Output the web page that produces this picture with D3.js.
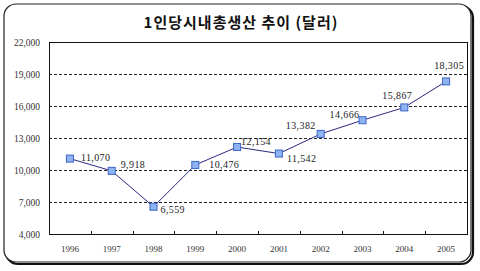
<!DOCTYPE html>
<html>
<head>
	<meta charset="utf-8">
	<title>1인당시내총생산 추이</title>
	<style type="text/css">
		body{ margin:0; background:#fff; }
		svg{ display:block; }
	</style>
	<script src="https://d3js.org/d3.v7.min.js"></script>
</head>
<body>
<div class="chart"></div>
<script type="text/javascript">

	// data
	var years = ["1996", "1997", "1998", "1999", "2000", "2001", "2002", "2003", "2004", "2005"];
	var gdp = [11070, 9918, 6559, 10476, 12154, 11542, 13382, 14666, 15867, 18305];
	var yTicks = [4000, 7000, 10000, 13000, 16000, 19000, 22000];
	var title = "1인당시내총생산 추이 (달러)";

	// label offsets from the marker (dx, dy, anchor)
	var labelPos = [
		[11, 2, "start"], [9, -3, "start"], [7, 6, "start"], [14, 3, "start"], [4, -2, "start"],
		[8, 8, "start"], [-5, -5, "end"], [-3, -2, "end"], [-7, -8, "middle"], [3, -12, "middle"]
	];

	var svgDims = {width: 480, height: 271};
	var plot = {left: 49, right: 467, top: 42, bottom: 234};

	var svg = d3.select(".chart")
				.append("svg")
				.attr("width", svgDims.width)
				.attr("height", svgDims.height);

	// outer frame
	svg.append("rect")
		.attr("x", 6).attr("y", 6)
		.attr("width", 467).attr("height", 258)
		.attr("rx", 12)
		.attr("fill", "none")
		.attr("stroke", "#111")
		.attr("stroke-width", 2.2);
	svg.append("rect")
		.attr("x", 4).attr("y", 4)
		.attr("width", 467).attr("height", 258)
		.attr("rx", 12)
		.attr("fill", "#fff")
		.attr("stroke", "#222")
		.attr("stroke-width", 1.2);

	svg.append("text")
		.attr("x", 241).attr("y", 28)
		.attr("text-anchor", "middle")
		.attr("font-family", "'Noto Sans CJK KR', sans-serif")
		.attr("font-weight", "bold")
		.attr("font-size", 15)
		.attr("letter-spacing", 1)
		.attr("fill", "#111")
		.text(title);

	// scales
	var x_scale = d3.scaleBand().domain(years).range([plot.left, plot.right]);
	var y_scale = d3.scaleLinear().domain([4000, 22000]).range([plot.bottom, plot.top]);

	// gridlines
	svg.append("g")
		.selectAll("line")
		.data(yTicks.slice(1, -1))
		.join("line")
		.attr("x1", plot.left).attr("x2", plot.right)
		.attr("y1", function(d){ return Math.round(y_scale(d)) + 0.5; })
		.attr("y2", function(d){ return Math.round(y_scale(d)) + 0.5; })
		.attr("stroke", "#222")
		.attr("stroke-dasharray", "3,2");

	// plot border
	svg.append("rect")
		.attr("x", plot.left + 0.5).attr("y", plot.top + 0.5)
		.attr("width", plot.right - plot.left).attr("height", plot.bottom - plot.top)
		.attr("fill", "none")
		.attr("stroke", "#111")
		.attr("stroke-width", 1);

	// y axis labels
	var y_axis = d3.axisLeft(y_scale)
					.tickValues(yTicks)
					.tickFormat(d3.format(","))
					.tickSize(0)
					.tickPadding(9);
	var gy = svg.append("g")
		.attr("transform", "translate(" + plot.left + ",0)")
		.call(y_axis);
	gy.select(".domain").remove();
	gy.selectAll("text")
		.attr("font-family", "'Liberation Serif', serif")
		.attr("font-size", 9.5)
		.attr("fill", "#333");

	// x axis: small ticks at band edges pointing up
	var edges = years.slice(1).map(function(d){ return x_scale(d); });
	svg.append("g")
		.selectAll("line")
		.data(edges)
		.join("line")
		.attr("x1", function(d){ return Math.round(d) + 0.5; })
		.attr("x2", function(d){ return Math.round(d) + 0.5; })
		.attr("y1", plot.bottom).attr("y2", plot.bottom - 3)
		.attr("stroke", "#111");

	var x_axis = d3.axisBottom(x_scale).tickSize(0).tickPadding(12);
	var gx = svg.append("g")
		.attr("transform", "translate(0," + plot.bottom + ")")
		.call(x_axis);
	gx.select(".domain").remove();
	gx.selectAll("text")
		.attr("font-family", "'Liberation Serif', serif")
		.attr("font-size", 9)
		.attr("fill", "#333");

	// line
	var pts = years.map(function(d, i){ return {x: d, y: gdp[i], i: i}; });
	var line = d3.line()
				.x(function(d){ return x_scale(d.x) + x_scale.bandwidth() / 2; })
				.y(function(d){ return y_scale(d.y); });

	svg.append("path")
		.datum(pts)
		.attr("fill", "none")
		.attr("stroke", "#2a2a80")
		.attr("stroke-width", 1)
		.attr("d", line);

	svg.append("g")
		.selectAll("rect")
		.data(pts)
		.join("rect")
		.attr("x", function(d){ return x_scale(d.x) + x_scale.bandwidth() / 2 - 3.5; })
		.attr("y", function(d){ return y_scale(d.y) - 3.5; })
		.attr("width", 7).attr("height", 7)
		.attr("fill", "#8fb4f2")
		.attr("stroke", "#3c64c8")
		.attr("stroke-width", 1);

	// value labels
	svg.append("g")
		.selectAll("text")
		.data(pts)
		.join("text")
		.attr("x", function(d){ return x_scale(d.x) + x_scale.bandwidth() / 2 + labelPos[d.i][0]; })
		.attr("y", function(d){ return y_scale(d.y) + labelPos[d.i][1]; })
		.attr("text-anchor", function(d){ return labelPos[d.i][2]; })
		.attr("font-family", "'Liberation Serif', serif")
		.attr("font-size", 10)
		.attr("letter-spacing", 0.4)
		.attr("fill", "#222")
		.text(function(d){ return d3.format(",")(d.y); });

</script>
</body>
</html>
